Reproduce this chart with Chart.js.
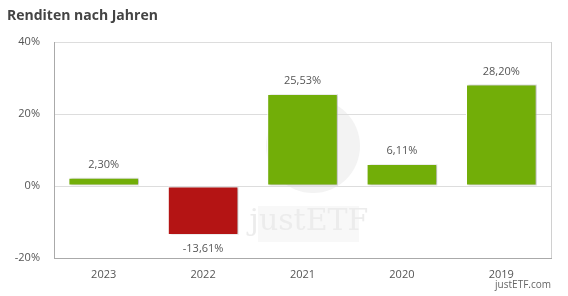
<!DOCTYPE html>
<html><head><meta charset="utf-8">
<script src="https://cdn.jsdelivr.net/npm/chart.js@4"></script>
<style>html,body{margin:0;padding:0;background:#fff}#w{width:568px;height:296px;position:relative}</style>
</head><body><div id="w"><canvas id="c" width="568" height="296"></canvas></div>
<script>
const categories = ['2023','2022','2021','2020','2019'];
const returns = [2.30, -13.61, 25.53, 6.11, 28.20];
const yTicks = [-20, 0, 20, 40];
const titleText = 'Renditen nach Jahren';
const sourceText = 'justETF.com';

const GREEN = '#72ae08', RED = '#b41414';
const fmt = v => v.toFixed(2).replace('.', ',') + '%';
const FONT = '"Open Sans", sans-serif';

const decor = {
  id: 'decor',
  beforeDraw(chart) {
    const ctx = chart.ctx;
    ctx.save();
    ctx.fillStyle = '#fff';
    ctx.fillRect(0, 0, chart.width, chart.height);
    // watermark
    ctx.fillStyle = '#f3f3f3';
    ctx.beginPath(); ctx.arc(313, 146, 47, 0, Math.PI * 2); ctx.fill();
    ctx.fillStyle = '#f8f8f8';
    ctx.fillRect(258, 206, 101, 36);
    ctx.fillStyle = '#ececec';
    ctx.font = '30px "DejaVu Serif", serif';
    ctx.textAlign = 'center'; ctx.textBaseline = 'middle';
    ctx.fillText('justETF', 309, 222);
    ctx.restore();
  },
  afterDraw(chart) {
    const ctx = chart.ctx, a = chart.chartArea;
    ctx.save();
    ctx.fillStyle = '#444';
    ctx.font = 'bold 14px ' + FONT;
    ctx.textAlign = 'left'; ctx.textBaseline = 'middle';
    ctx.fillText(titleText, 7, 16);
    ctx.fillStyle = '#666';
    ctx.font = '10px ' + FONT;
    ctx.textAlign = 'right';
    ctx.fillText(sourceText, 551, 285);
    // right border
    ctx.strokeStyle = '#d0d0d0'; ctx.lineWidth = 1;
    ctx.beginPath(); ctx.moveTo(Math.round(a.right) + 0.5, a.top); ctx.lineTo(Math.round(a.right) + 0.5, a.bottom); ctx.stroke();
    // labels
    const meta = chart.getDatasetMeta(0);
    ctx.fillStyle = '#555';
    ctx.font = '11px ' + FONT;
    ctx.textAlign = 'center';
    meta.data.forEach((bar, i) => {
      const v = returns[i];
      const y = v >= 0 ? bar.y - 13 : bar.y + 14;
      ctx.fillText(fmt(v), bar.x, y);
    });
    ctx.restore();
  },
  beforeDatasetsDraw(chart) {
    const ctx = chart.ctx;
    ctx.save();
    ctx.shadowColor = 'rgba(0,0,0,0.25)';
    ctx.shadowOffsetX = 2;
    ctx.shadowOffsetY = 0;
    ctx.shadowBlur = 2;
  },
  afterDatasetsDraw(chart) { chart.ctx.restore(); }
};

new Chart(document.getElementById('c'), {
  type: 'bar',
  data: {
    labels: categories,
    datasets: [{
      data: returns,
      backgroundColor: returns.map(v => v >= 0 ? GREEN : RED),
      borderColor: '#fff',
      borderWidth: 1,
      borderSkipped: false,
      categoryPercentage: 1,
      barPercentage: 0.71
    }]
  },
  plugins: [decor],
  options: {
    responsive: false,
    animation: false,
    layout: { padding: { top: 42, right: 17, left: 0, bottom: 0 } },
    plugins: { legend: { display: false }, tooltip: { enabled: false } },
    scales: {
      x: {
        grid: { display: false },
        border: { color: '#aaa' },
        ticks: { color: '#555', font: { family: FONT, size: 11 }, padding: 2 },
        afterFit(s) { s.height = 38; }
      },
      y: {
        min: -20, max: 40,
        afterBuildTicks(s) { s.ticks = yTicks.map(v => ({ value: v })); },
        grid: { color: '#ddd', drawTicks: false },
        border: { color: '#aaa' },
        ticks: { color: '#555', font: { family: FONT, size: 11 }, padding: 14, callback: v => v + '%' },
        afterFit(s) { s.width = 54; }
      }
    }
  }
});
</script></body></html>
